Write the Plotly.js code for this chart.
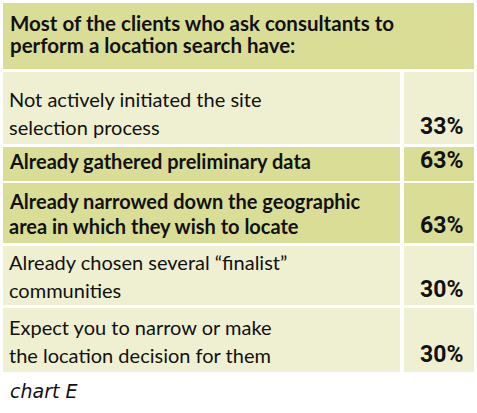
<!DOCTYPE html>
<html>
<head>
<meta charset="utf-8">
<script src="https://cdn.plot.ly/plotly-3.0.1.min.js"></script>
<style>html,body{margin:0;padding:0;background:#fff;}#chart{width:477px;height:413px;}</style>
</head>
<body>
<div id="chart"></div>
<script>
// ---- data ----
const headerText = "Most of the clients who ask consultants to<br>perform a location search have:";
const labels = [
  "Not actively initiated the site<br>selection process",
  "Already gathered preliminary data",
  "Already narrowed down the geographic<br>area in which they wish to locate",
  "Already chosen several “finalist”<br>communities",
  "Expect you to narrow or make<br>the location decision for them"
];
const values = [33, 63, 63, 30, 30];
const highlighted = [false, true, true, false, false];
const footnote = "chart E";

// ---- layout geometry (pixels) ----
const W = 477, H = 413;
const left = 3, right = 474, splitL = 400, splitR = 404;
const header = {top: 3, bottom: 69};
const rowTops = [72, 147, 183, 246, 308];
const rowBottoms = [144, 181, 243, 305, 372];
const padBottom = [10, 13, 10, 8, 10];
const darkColor = "#dadd96";
const lightColor = "#eff0d1";

const regFont = {family: "Lato, Liberation Sans", size: 20, color: "#111"};
const boldFont = {family: "Lato, Liberation Sans", size: 20, color: "#111", weight: 700};
const valFont = {family: "Roboto, Liberation Sans", size: 23, color: "#111", weight: 700};
const headFont = {family: "Lato, Liberation Sans", size: 20.5, color: "#111", weight: 700};

const shapes = [];
const annotations = [];

function rect(x0, x1, y0, y1, color) {
  shapes.push({type: "rect", xref: "x", yref: "y", x0: x0, x1: x1, y0: y0, y1: y1,
    fillcolor: color, line: {width: 0}, layer: "below"});
}
// place a single text line by its approximate baseline
function textLine(txt, x, baseline, font, xanchor) {
  annotations.push({text: txt, x: x, y: baseline - font.size * 0.34, xref: "x", yref: "y",
    xanchor: xanchor || "left", yanchor: "middle", showarrow: false, font: font,
    align: xanchor === "right" ? "right" : "left"});
}

// header
rect(left, right, header.top, header.bottom, darkColor);
headerText.split("<br>").forEach((ln, i) => textLine(ln, 8, 30 + i * 22, headFont));

// rows
labels.forEach((lab, r) => {
  const col = highlighted[r] ? darkColor : lightColor;
  rect(left, splitL, rowTops[r], rowBottoms[r], col);
  rect(splitR, right, rowTops[r], rowBottoms[r], col);
  const lines = lab.split("<br>");
  const font = highlighted[r] ? boldFont : regFont;
  const lastBase = rowBottoms[r] - padBottom[r];
  const spacing = highlighted[r] ? 25 : 28;
  lines.forEach((ln, i) => {
    textLine(ln, 7, lastBase - (lines.length - 1 - i) * spacing, font);
  });
  textLine(values[r] + "%", 465, lastBase, valFont, "right");
});

// footnote
annotations.push({text: footnote, x: 8, y: 397 - 19 * 0.34, xref: "x", yref: "y",
  xanchor: "left", yanchor: "middle", showarrow: false,
  font: {family: "DejaVu Sans, Liberation Sans", size: 19, color: "#111", style: "italic"}});

const layout = {
  width: W, height: H,
  margin: {l: 0, r: 0, t: 0, b: 0},
  paper_bgcolor: "#fff", plot_bgcolor: "#fff",
  xaxis: {range: [0, W], visible: false, fixedrange: true},
  yaxis: {range: [H, 0], visible: false, fixedrange: true},
  shapes: shapes,
  annotations: annotations,
  showlegend: false
};

Plotly.newPlot("chart", [{type: "scatter", x: [], y: [], hoverinfo: "skip"}], layout, {displayModeBar: false, staticPlot: true});
</script>
</body>
</html>
